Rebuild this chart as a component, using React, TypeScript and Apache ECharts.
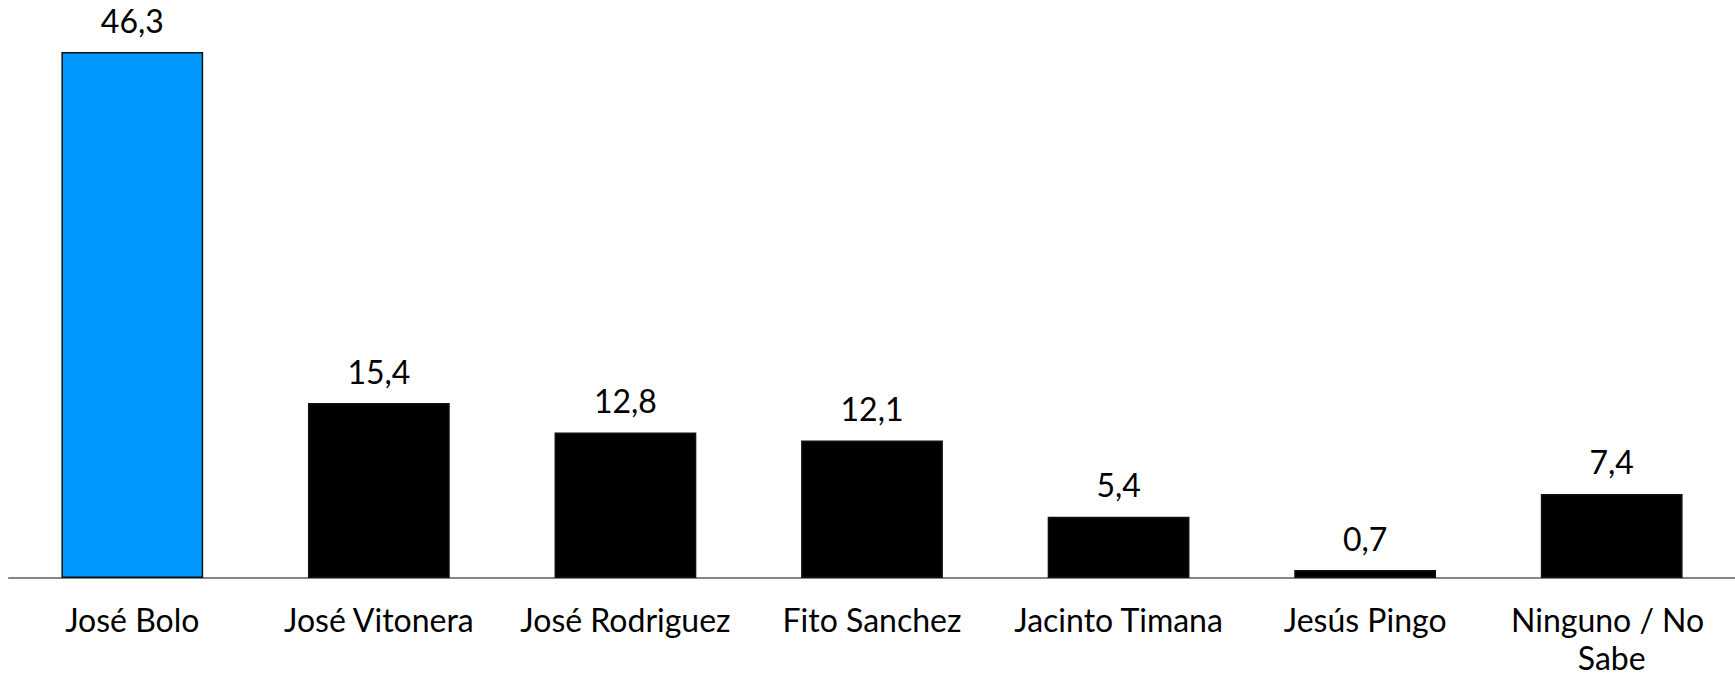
import React, { useEffect, useRef } from "react";
import * as echarts from "echarts";

const categories = [
  "José Bolo",
  "José Vitonera",
  "José Rodriguez",
  "Fito Sanchez",
  "Jacinto Timana",
  "Jesús Pingo",
  "Ninguno / No Sabe",
];
const values = [46.3, 15.4, 12.8, 12.1, 5.4, 0.7, 7.4];
const highlightIndex = 0;
const highlightColor = "#0099FF";
const barColor = "#000000";

export default function App() {
  const ref = useRef<HTMLDivElement>(null);
  useEffect(() => {
    if (!ref.current) return;
    const chart = echarts.init(ref.current, null, { renderer: "svg" });
    const font = "Lato, 'Open Sans', sans-serif";
    chart.setOption({
      animation: false,
      backgroundColor: "#ffffff",
      grid: {
        left: 9,
        top: 10,
        width: 1726,
        height: 568,
        containLabel: false,
        outerBoundsMode: "none",
      },
      xAxis: {
        type: "category",
        data: categories,
        axisLine: { show: true, lineStyle: { color: "#868686", width: 2 } },
        axisTick: { show: false },
        axisLabel: {
          interval: 0,
          color: "#000",
          fontFamily: font,
          fontSize: 32,
          lineHeight: 38,
          margin: 22,
          width: 240,
          overflow: "break",
        },
      },
      yAxis: {
        type: "value",
        min: 0,
        max: 50,
        show: false,
        splitLine: { show: false },
      },
      series: [
        {
          type: "bar",
          data: values.map((v, i) => ({
            value: v,
            itemStyle: {
              color: i === highlightIndex ? highlightColor : barColor,
            },
          })),
          barCategoryGap: "42.5%",
          itemStyle: { borderColor: "#111", borderWidth: 1.5 },
          label: {
            show: true,
            position: "top",
            distance: 16,
            color: "#000",
            fontFamily: font,
            fontSize: 32,
            formatter: (p: any) => p.value.toFixed(1).replace(".", ","),
          },
        },
      ],
    });
    return () => chart.dispose();
  }, []);
  return (
    <div
      ref={ref}
      style={{ position: "fixed", left: 0, top: 0, width: 1735, height: 675 }}
    />
  );
}
